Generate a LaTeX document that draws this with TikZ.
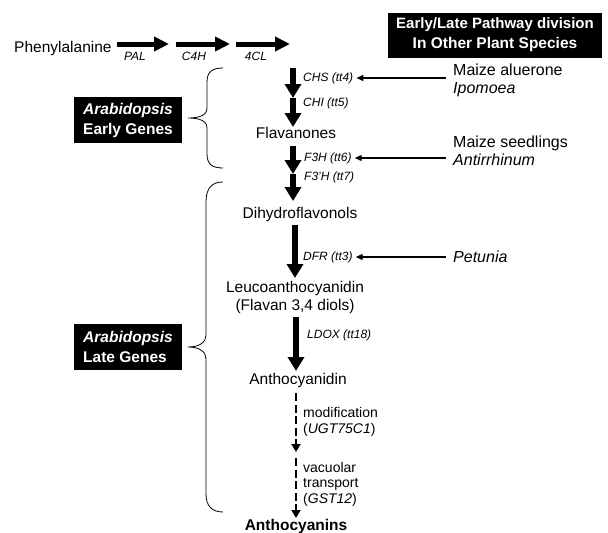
\documentclass[tikz,border=0pt]{standalone}
\usepackage{fontspec}
\setmainfont{Liberation Sans}
\usetikzlibrary{arrows.meta,calc}
\tikzset{
  mainlbl/.style={inner sep=0pt, font=\fontsize{15.5}{18}\selectfont},
  boldlbl/.style={inner sep=0pt, font=\fontsize{15.5}{18}\selectfont\bfseries},
  gene/.style={inner sep=0pt, font=\fontsize{12}{14}\selectfont\itshape},
  smalllbl/.style={inner sep=0pt, font=\fontsize{14}{16}\selectfont},
  sidelbl/.style={inner sep=0pt, font=\fontsize{16}{19}\selectfont, anchor=base west},
  sideit/.style={sidelbl, font=\fontsize{16}{19}\selectfont\itshape},
  blackbox/.style={fill=black, text=white, inner sep=0pt, font=\fontsize{15.5}{20}\selectfont\bfseries},
  fatarrow/.style={line width=6pt, -{Triangle[width=16pt,length=14pt]}},
  hfatarrow/.style={line width=5pt, -{Triangle[width=14pt,length=15pt]}},
  thinarrow/.style={line width=1.2pt, -{Triangle[width=6pt,length=7pt]}},
  dasharrow/.style={line width=2pt, dash pattern=on 8pt off 3.5pt, -{Triangle[width=9pt,length=8pt]}},
  bracepath/.style={line width=0.8pt}
}
\begin{document}
\begin{tikzpicture}[x=1pt,y=-1pt]
\useasboundingbox (0,0) rectangle (608,533);

% top row
\node[mainlbl, anchor=base west] (phe) at (14,52) {Phenylalanine};
\coordinate (h1s) at (117,44); \coordinate (h1e) at (169,44);
\coordinate (h2s) at (176,44); \coordinate (h2e) at (230,44);
\coordinate (h3s) at (236,44); \coordinate (h3e) at (290,44);
\draw[hfatarrow] (h1s) -- (h1e);
\draw[hfatarrow] (h2s) -- (h2e);
\draw[hfatarrow] (h3s) -- (h3e);
\node[gene, anchor=base] (pal) at (135,60) {PAL};
\node[gene, anchor=base] (c4h) at (194,60) {C4H};
\node[gene, anchor=base] (fourcl) at (256,60) {4CL};

% title box
\node[blackbox, minimum width=214pt, minimum height=45pt, align=center] (title) at (495,35)
  {\fontsize{15}{18}\selectfont Early/Late Pathway division\\In Other Plant Species};

% early pathway
\coordinate (v1a) at (293,68); \coordinate (v1b) at (293,98); \coordinate (v1c) at (293,127);
\draw[fatarrow] (v1a) -- (v1b);
\draw[fatarrow] (v1b) -- (v1c);
\node[gene, anchor=west] (chs) at (303,78) {CHS (tt4)};
\node[gene, anchor=west] (chi) at (303,103) {CHI (tt5)};
\node[mainlbl, anchor=base] (flav) at (296,138) {Flavanones};

\coordinate (v2a) at (293,146); \coordinate (v2b) at (293,174); \coordinate (v2c) at (293,201);
\draw[fatarrow] (v2a) -- (v2b);
\draw[fatarrow] (v2b) -- (v2c);
\node[gene, anchor=west] (f3h) at (304,158) {F3H (tt6)};
\node[gene, anchor=west] (f3ph) at (304,177) {F3’H (tt7)};
\node[mainlbl, anchor=base] (dihydro) at (300,218) {Dihydroflavonols};

\coordinate (v3a) at (295,225); \coordinate (v3b) at (295,278);
\draw[fatarrow] (v3a) -- (v3b);
\node[gene, anchor=west] (dfr) at (303,257) {DFR (tt3)};
\node[mainlbl, anchor=base] (leuco) at (295,292) {Leucoanthocyanidin};
\node[mainlbl, anchor=base] (leucob) at (295,310) {(Flavan 3,4 diols)};

\coordinate (v4a) at (296,317); \coordinate (v4b) at (296,371);
\draw[fatarrow] (v4a) -- (v4b);
\node[gene, anchor=west] (ldox) at (307,335) {LDOX (tt18)};
\node[mainlbl, anchor=base] (anthd) at (298,384) {Anthocyanidin};

\coordinate (v5a) at (296,393); \coordinate (v5b) at (296,452);
\draw[dasharrow] (v5a) -- (v5b);
\node[smalllbl, anchor=base west] (modif) at (303,417) {modification};
\node[smalllbl, anchor=base west] (ugt) at (303,433) {(\textit{UGT75C1})};

\coordinate (v6a) at (296,458); \coordinate (v6b) at (296,518);
\draw[dasharrow] (v6a) -- (v6b);
\node[smalllbl, anchor=base west] (vac) at (303,472) {vacuolar};
\node[smalllbl, anchor=base west] (trans) at (303,487) {transport};
\node[smalllbl, anchor=base west] (gst) at (303,503) {(\textit{GST12})};
\node[boldlbl, anchor=base] (anthns) at (296,530) {Anthocyanins};

% right side labels
\node[sidelbl] (maizeA) at (453,75) {Maize aluerone};
\node[sideit] (ipo) at (453,93) {Ipomoea};
\node[sidelbl] (maizeS) at (453,147) {Maize seedlings};
\node[sideit] (antir) at (453,165) {Antirrhinum};
\node[sideit] (petu) at (453,262) {Petunia};

\draw[thinarrow] ($(chs.east -| maizeA.west)+(-7,0)$) -- ($(chs.east)+(3,0)$);
\draw[thinarrow] ($(f3h.east -| maizeS.west)+(-7,0)$) -- ($(f3h.east)+(3,0)$);
\draw[thinarrow] ($(dfr.east -| petu.west)+(-7,0)$) -- ($(dfr.east)+(3,0)$);

% Arabidopsis boxes
\node[blackbox, minimum width=108pt, minimum height=46pt, align=left, inner xsep=8pt] (early) at (128,120)
  {\textit{Arabidopsis}\\Early Genes};
\node[blackbox, minimum width=108pt, minimum height=46pt, align=left, inner xsep=8pt] (late) at (128,347)
  {\textit{Arabidopsis}\\Late Genes};

% braces
\draw[bracepath] (223,68) .. controls (212,68) and (207,72) .. (207,82) -- (207,108)
  .. controls (207,115) and (200,118) .. (188,118)
  .. controls (200,118) and (207,121) .. (207,128) -- (207,154)
  .. controls (207,164) and (212,168) .. (223,168);
\draw[bracepath] (223,182) .. controls (212,182) and (206,188) .. (206,202) -- (206,335)
  .. controls (206,342) and (200,347) .. (188,347)
  .. controls (200,347) and (206,352) .. (206,359) -- (206,494)
  .. controls (206,506) and (212,512) .. (223,512);
\end{tikzpicture}
\end{document}
